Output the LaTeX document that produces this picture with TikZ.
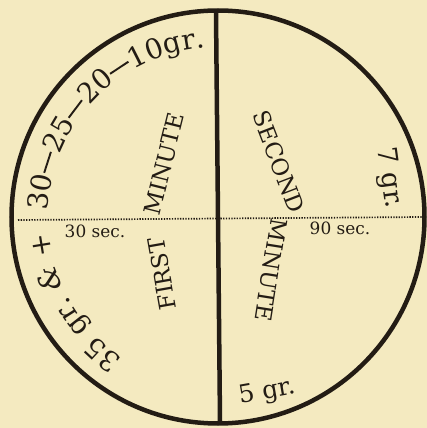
\documentclass[tikz,border=0pt]{standalone}
\usepackage{fontspec}
\setmainfont{DejaVu Serif}
\usetikzlibrary{decorations.text}
\definecolor{paper}{RGB}{244,234,192}
\definecolor{ink}{RGB}{35,28,20}
\newcommand{\arcfnt}{\fontsize{28}{28}\selectfont}
\newcommand{\dsh}{\rule[8bp]{22bp}{1.9bp}}
\tikzset{
  capword/.style={text=ink, inner sep=0pt, font=\fontsize{23}{23}\selectfont},
  smalltxt/.style={text=ink, inner sep=0pt, font=\fontsize{17}{17}\selectfont},
  grtxt/.style={text=ink, inner sep=0pt, font=\fontsize{25}{25}\selectfont},
}
\begin{document}
\begin{tikzpicture}[x=1bp,y=1bp]
\fill[paper] (0,0) rectangle (427,428);
\useasboundingbox (0,0) rectangle (427,428);
\coordinate (C) at (218,211);
\node[circle, draw=ink, line width=4.5bp, minimum size=413bp, inner sep=0pt] (ring) at (C) {};
\coordinate (vt) at (216,415);
\coordinate (vb) at (220,7);
\draw[ink, line width=4.5bp] (vt) -- (vb);
\coordinate (dl) at (18,208);
\coordinate (dr) at (423,211);
\draw[ink, line width=1.7bp, dash pattern=on 1.3bp off 1.4bp] (dl) -- (dr);
\path[decorate, decoration={text along path, text color=ink, text align=left,
  text={|\arcfnt|35 gr. {\itshape\&} +{\hspace{22bp}}30{\dsh}25{\dsh}20{\dsh}10gr.}}]
  (C) ++(236:170) arc[start angle=236, end angle=80, radius=170];
\node[capword, rotate=100] (first) at (162,154) {FIRST};
\node[capword, rotate=76] (min1) at (164,264) {MINUTE};
\node[capword, rotate=-69] (second) at (279,266) {SECOND};
\node[capword, rotate=-99] (min2) at (271,158) {MINUTE};
\node[smalltxt] (s30) at (95,197) {30 sec.};
\node[smalltxt] (s90) at (340,200) {90 sec.};
\node[grtxt, font=\fontsize{27}{27}\selectfont, rotate=-82] (g7) at (389,250) {7 gr.};
\node[grtxt, rotate=10] (g5) at (267,36) {5 gr.};
\end{tikzpicture}
\end{document}
